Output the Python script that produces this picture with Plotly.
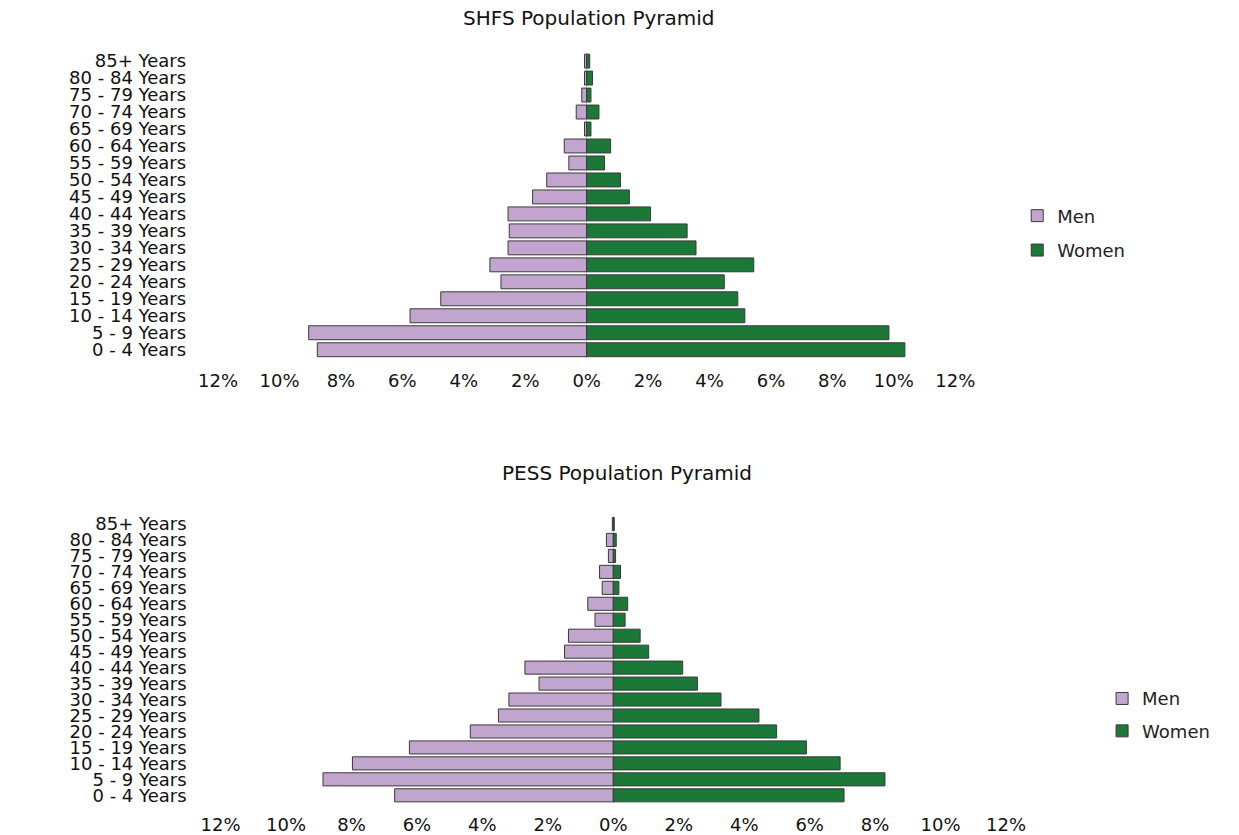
import plotly.graph_objects as go

# age bands, youngest first (plotly puts the first category at the bottom)
age_groups = ["0 - 4 Years", "5 - 9 Years", "10 - 14 Years", "15 - 19 Years",
              "20 - 24 Years", "25 - 29 Years", "30 - 34 Years", "35 - 39 Years",
              "40 - 44 Years", "45 - 49 Years", "50 - 54 Years", "55 - 59 Years",
              "60 - 64 Years", "65 - 69 Years", "70 - 74 Years", "75 - 79 Years",
              "80 - 84 Years", "85+ Years"]

# share of population, percent
shfs_men = [8.77, 9.05, 5.75, 4.75, 2.79, 3.15, 2.56, 2.52, 2.56, 1.76,
            1.30, 0.58, 0.73, 0.07, 0.34, 0.16, 0.07, 0.07]
shfs_women = [10.36, 9.84, 5.15, 4.92, 4.48, 5.44, 3.56, 3.27, 2.08, 1.39,
              1.10, 0.58, 0.78, 0.14, 0.40, 0.14, 0.19, 0.10]

pess_men = [6.68, 8.87, 7.97, 6.23, 4.37, 3.51, 3.19, 2.27, 2.70, 1.49,
            1.37, 0.56, 0.78, 0.34, 0.42, 0.15, 0.21, 0.03]
pess_women = [7.05, 8.30, 6.93, 5.90, 4.99, 4.45, 3.29, 2.57, 2.12, 1.08,
              0.82, 0.36, 0.44, 0.17, 0.22, 0.07, 0.09, 0.03]

tick_vals = [-12, -10, -8, -6, -4, -2, 0, 2, 4, 6, 8, 10, 12]
tick_text = ["12%", "10%", "8%", "6%", "4%", "2%", "0%", "2%", "4%", "6%", "8%", "10%", "12%"]

MEN_COLOR = "#c2a5cf"
WOMEN_COLOR = "#1b7837"
OUTLINE = "#3a3a3a"
FONT = "DejaVu Sans"

fig = go.Figure()

panels = [
    ("shfs", "x", "y", "legend", shfs_men, shfs_women),
    ("pess", "x2", "y2", "legend2", pess_men, pess_women),
]
for key, xa, ya, leg, men, women in panels:
    fig.add_trace(go.Bar(
        y=age_groups, x=[-v for v in men], orientation="h", name="Men",
        marker=dict(color=MEN_COLOR, line=dict(color=OUTLINE, width=1)),
        xaxis=xa, yaxis=ya, legend=leg, legendgroup=key + "_men",
    ))
    fig.add_trace(go.Bar(
        y=age_groups, x=women, orientation="h", name="Women",
        marker=dict(color=WOMEN_COLOR, line=dict(color=OUTLINE, width=1)),
        xaxis=xa, yaxis=ya, legend=leg, legendgroup=key + "_women",
    ))

xaxis_common = dict(
    range=[-12, 12], tickmode="array", tickvals=tick_vals, ticktext=tick_text,
    showgrid=False, zeroline=True, zerolinecolor="#c8c8c8", zerolinewidth=1,
    showline=False, ticks="", automargin=False,
    tickfont=dict(family=FONT, size=18, color="#111111"), fixedrange=True,
)
yaxis_common = dict(
    tickmode="array", tickvals=age_groups, ticktext=age_groups,
    showgrid=False, showline=False, ticks="", automargin=False,
    tickfont=dict(family=FONT, size=18, color="#111111"), fixedrange=True,
)

legend_common = dict(
    font=dict(family=FONT, size=18, color="#222222"),
    bgcolor="rgba(0,0,0,0)", traceorder="grouped",
    yanchor="middle", xanchor="left",
)

fig.update_layout(
    width=1239, height=835,
    margin=dict(l=0, r=0, t=0, b=0, autoexpand=False),
    paper_bgcolor="white", plot_bgcolor="white",
    barmode="overlay", bargap=0.18,
    font=dict(family=FONT, color="#111111"),
    xaxis=dict(domain=[0.176, 0.771], anchor="y", ticklabelstandoff=10, **xaxis_common),
    yaxis=dict(domain=[0.571, 0.937], anchor="x", ticklabelstandoff=31, **yaxis_common),
    xaxis2=dict(domain=[0.178, 0.812], anchor="y2", ticklabelstandoff=9, **xaxis_common),
    yaxis2=dict(domain=[0.038, 0.382], anchor="x2", ticklabelstandoff=33, **yaxis_common),
    legend=dict(x=0.821, y=0.721, tracegroupgap=8, **legend_common),
    legend2=dict(x=0.8895, y=0.144, tracegroupgap=6, **legend_common),
    annotations=[
        dict(text="SHFS Population Pyramid", x=0.4746, y=0.978, xref="paper", yref="paper",
             yanchor="middle", showarrow=False,
             font=dict(family=FONT, size=20, color="#111111")),
        dict(text="PESS Population Pyramid", x=0.506, y=0.434, xref="paper", yref="paper",
             yanchor="middle", showarrow=False,
             font=dict(family=FONT, size=20, color="#111111")),
    ],
)

# drop the browser's default page margin so the figure sits at the top-left corner
fig.write_html("out.html", config={"displayModeBar": False},
               post_script="document.body.style.margin = '0px';")
